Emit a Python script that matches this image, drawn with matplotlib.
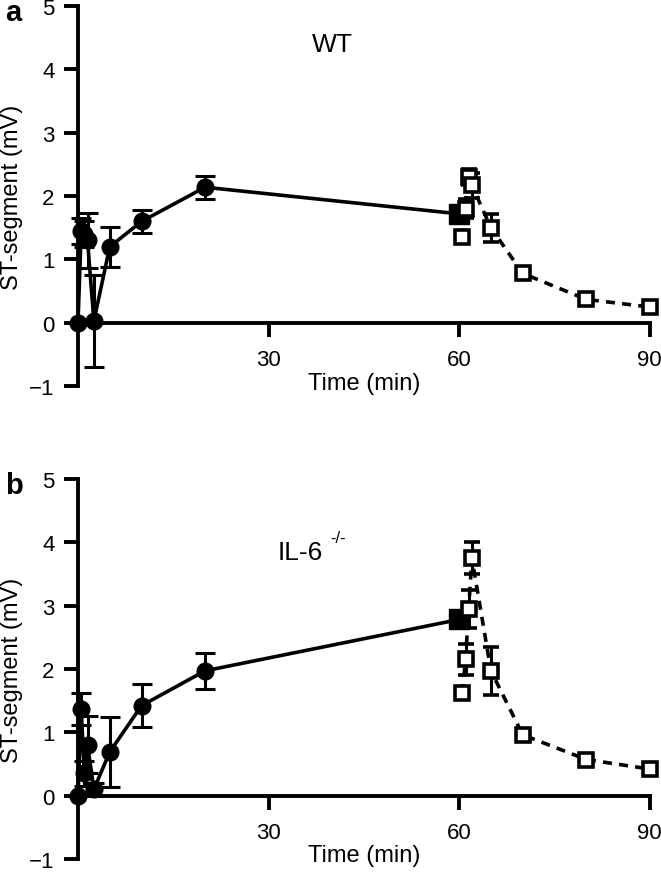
import matplotlib
matplotlib.use('Agg')
import matplotlib.pyplot as plt

plt.rcParams['font.family'] = ['Liberation Sans', 'DejaVu Sans']

# ischemia (filled circles) and reperfusion (open squares) time points, min
t_isch = [0, 0.5, 1, 1.5, 2.5, 5, 10, 20, 60]
t_rep = [60.5, 61, 61.5, 62, 65, 70, 80, 90]

# WT
wt_isch = [0, 1.45, 1.4, 1.3, 0.03, 1.2, 1.6, 2.14, 1.72]
wt_isch_err = [0, 0.2, 0.2, 0.43, 0.72, 0.32, 0.18, 0.18, 0.1]
wt_rep = [1.35, 1.8, 2.3, 2.17, 1.5, 0.78, 0.37, 0.25]
wt_rep_err = [0.08, 0.15, 0.12, 0.2, 0.22, 0.07, 0.06, 0.05]

# IL-6 -/-
il6_isch = [0, 1.37, 0.35, 0.8, 0.1, 0.69, 1.42, 1.97, 2.78]
il6_isch_err = [0, 0.25, 0.2, 0.45, 0.1, 0.55, 0.34, 0.28, 0.12]
il6_rep = [1.62, 2.15, 2.95, 3.75, 1.97, 0.96, 0.57, 0.42]
il6_rep_err = [0.1, 0.25, 0.3, 0.25, 0.38, 0.08, 0.06, 0.05]

xticks = [30, 60, 90]
yticks = [-1, 0, 1, 2, 3, 4, 5]


def panel(ax, isch, isch_err, rep, rep_err):
    ax.errorbar(t_isch, isch, yerr=isch_err, marker='o', ls='-', color='k',
                lw=2.6, ms=12, capsize=7, elinewidth=2.2, capthick=2.2,
                zorder=3)
    ax.plot(t_isch[-1:], isch[-1:], 's', color='k', ms=15, zorder=4)
    ax.errorbar(t_rep, rep, yerr=rep_err, marker='s', ls=(0, (2.5, 2)),
                color='k', mfc='white', mec='k', mew=2.6, lw=2.6, ms=10.5,
                capsize=6, elinewidth=2.2, capthick=2.2, zorder=5)
    for art in ax.get_children():
        art.set_clip_on(False)

    ax.set_xlim(0, 90)
    ax.set_ylim(-1, 5)
    ax.set_xticks(xticks)
    ax.set_yticks(yticks)
    ax.spines['top'].set_visible(False)
    ax.spines['right'].set_visible(False)
    ax.spines['bottom'].set_position(('data', 0))
    for s in ['left', 'bottom']:
        ax.spines[s].set_linewidth(2.8)
    ax.tick_params(axis='both', direction='out', length=10, width=2.8,
                   labelsize=16)
    ax.tick_params(axis='x', pad=9)
    ax.tick_params(axis='y', pad=7)
    ax.set_xlabel('Time (min)', fontsize=17, labelpad=1)
    ax.set_ylabel('ST-segment (mV)', fontsize=17, labelpad=4)


fig = plt.figure(figsize=(6.61, 8.78), dpi=100)
ax_a = fig.add_axes([0.118, 0.559, 0.865, 0.433])
ax_b = fig.add_axes([0.118, 0.0205, 0.865, 0.433])

panel(ax_a, wt_isch, wt_isch_err, wt_rep, wt_rep_err)
panel(ax_b, il6_isch, il6_isch_err, il6_rep, il6_rep_err)

ax_a.text(40, 4.4, 'WT', fontsize=19, ha='center', va='center')
il6 = ax_b.text(31.5, 3.85, 'IL-6', fontsize=19, ha='left', va='center')
ax_b.annotate('-/-', xy=(1, 0.78), xycoords=il6, xytext=(5, 0),
              textcoords='offset points', fontsize=12, va='bottom')

fig.text(0.008, 0.985, 'a', fontsize=21, fontweight='bold', va='center')
fig.text(0.008, 0.447, 'b', fontsize=21, fontweight='bold', va='center')

fig.savefig('out.png', dpi=100)
